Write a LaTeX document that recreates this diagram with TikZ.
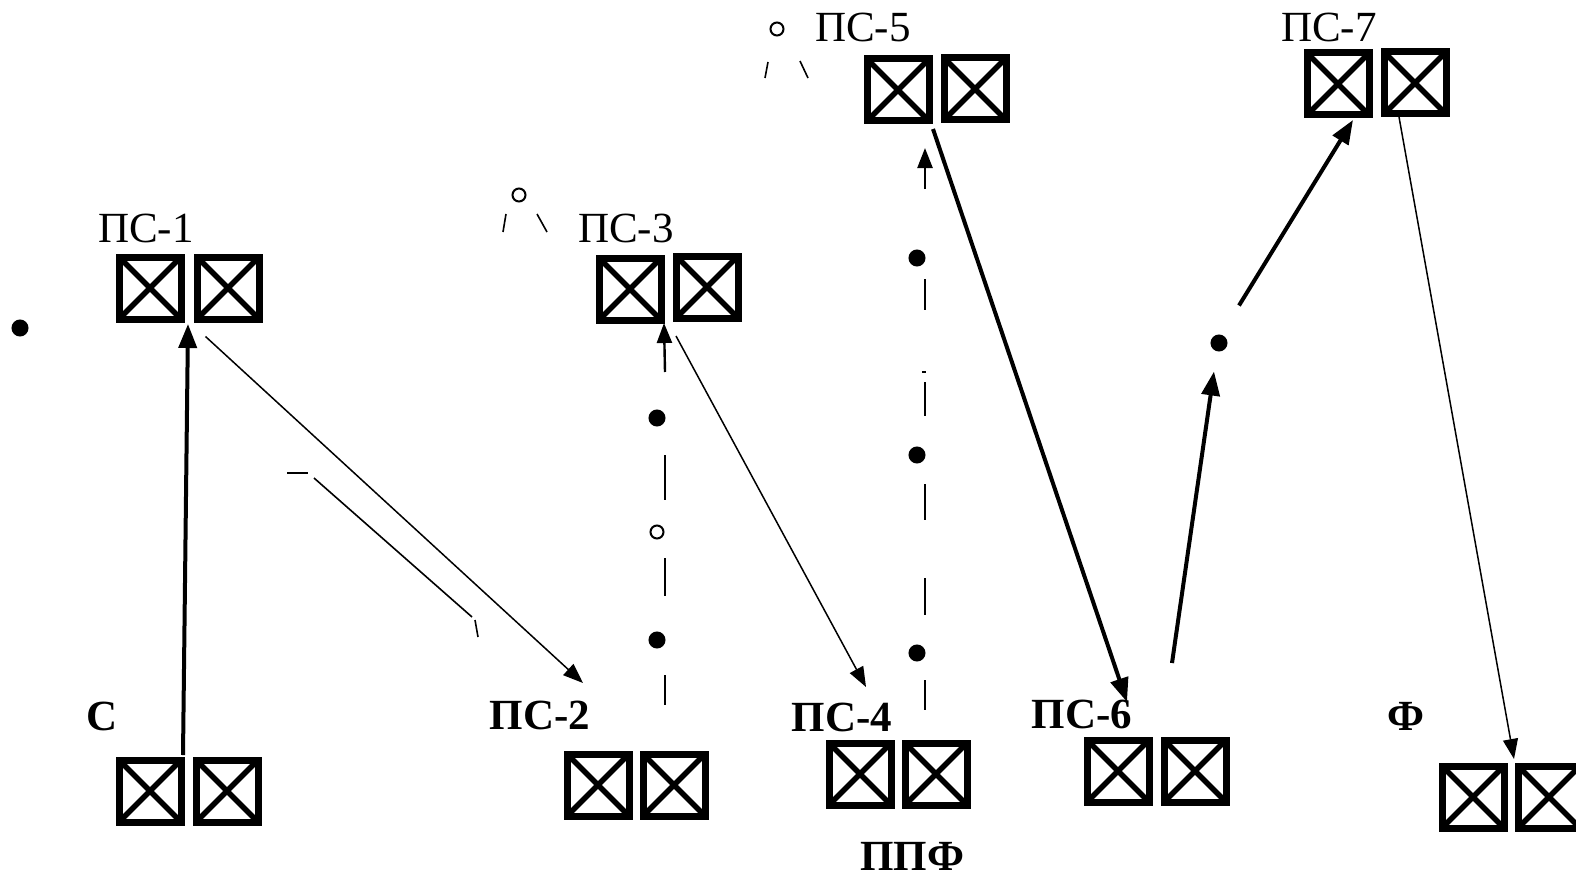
\documentclass[tikz,border=0pt]{standalone}
\usepackage{fontspec}
\setmainfont{Liberation Serif}
\usetikzlibrary{arrows.meta,calc}
\begin{document}
\begin{tikzpicture}[x=1pt,y=-1pt,
  xbox/.style={draw,line width=7pt,minimum size=62pt,inner sep=0pt,outer sep=0pt,
    path picture={\draw[line width=5.5pt]
      (path picture bounding box.north west)--(path picture bounding box.south east)
      (path picture bounding box.north east)--(path picture bounding box.south west);}},
  lab/.style={anchor=base,inner sep=0pt,font=\fontsize{43}{48}\selectfont},
  blab/.style={lab,font=\fontsize{43}{48}\selectfont\bfseries},
  thick arrow/.style={line width=4pt,-{Triangle[length=24pt,width=18pt]}},
  thin arrow/.style={line width=1.5pt,-{Triangle[length=20pt,width=15pt]}},
  dashseg/.style={line width=2.4pt},
  thinseg/.style={line width=1.6pt},
  blob/.style={circle,fill,draw,line width=2pt,inner sep=0pt,minimum size=15pt},
  ring/.style={circle,draw,line width=2pt,inner sep=0pt,minimum size=13pt}
]
\useasboundingbox (0,0) rectangle (1576,880);
\clip (0,0) rectangle (1576,880);

% box pairs
\node[xbox] (c1) at (150,791) {};  \node[xbox] (c2) at (227,791) {};
\node[xbox] (p1a) at (150,288) {}; \node[xbox] (p1b) at (228,288) {};
\node[xbox] (p3a) at (630,289) {}; \node[xbox] (p3b) at (707,287) {};
\node[xbox] (p5a) at (898,90) {};  \node[xbox] (p5b) at (975,89) {};
\node[xbox] (p7a) at (1338,84) {}; \node[xbox] (p7b) at (1415,83) {};
\node[xbox] (p2a) at (598,785) {}; \node[xbox] (p2b) at (674,785) {};
\node[xbox] (p4a) at (860,774) {}; \node[xbox] (p4b) at (936,774) {};
\node[xbox] (p6a) at (1118,771) {};\node[xbox] (p6b) at (1195,771) {};
\node[xbox] (fa) at (1473,797) {}; \node[xbox] (fb) at (1549,797) {};

% labels
\node[lab] (l1) at (146,242) {ПС-1};
\node[lab] (l3) at (626,242) {ПС-3};
\node[lab] (l5) at (863,42) {ПС-5};
\node[lab] (l7) at (1329,42) {ПС-7};
\node[blab] (lc) at (102,730) {С};
\node[blab] (l2) at (540,729) {ПС-2};
\node[blab] (l4) at (842,731) {ПС-4};
\node[blab] (l6) at (1082,728) {ПС-6};
\node[blab] (lf) at (1406,730) {Ф};
\node[blab] (lppf) at (912,870) {ППФ};

% small marks
\node[blob] (b0) at (20,328) {};
\node[ring] (r5) at (777,29) {};
\draw[thinseg] (765,78) -- (768,62);
\draw[thinseg] (800,61) -- (808,78);
\node[ring] (r3) at (519,195) {};
\draw[thinseg] (503,232) -- (506,214);
\draw[thinseg] (537,214) -- (547,232);
\draw[thinseg] (287,473) -- (308,473);
\draw[thinseg] (314,478) -- (472,617);
\draw[thinseg] (475,620) -- (478,637);

% free ends
\coordinate (t2) at (583,683);
\coordinate (t4) at (866,687);
\coordinate (t6) at (1127,702);
\node[blob] (d6) at (1219,343) {};

% connectors
\draw[thick arrow] ([xshift=2pt,yshift=5pt]c1.north east) -- ([xshift=7pt,yshift=-5pt]p1a.south east);
\draw[thin arrow] ([xshift=8.5pt,yshift=-17.5pt]p1b.south west) -- (t2);
\draw[thin arrow] ([xshift=0pt,yshift=-18pt]p3b.south west) -- (t4);
\draw[thick arrow] ([xshift=4pt,yshift=-8pt]p5a.south east) -- (t6);
\draw[thick arrow] ([xshift=-23pt,yshift=77pt]p6b.north) -- ([xshift=-5pt,yshift=-20pt]d6.south);
\draw[thick arrow] ([xshift=20pt,yshift=29pt]d6.north) -- ([xshift=-16pt,yshift=-5pt]p7a.south east);
\draw[thin arrow] ([xshift=-16pt,yshift=-3pt]p7b.south) -- ([xshift=-4pt,yshift=7pt]fb.north west);

% dashed link ПС-2 -> ПС-3 (x = 665)
\draw[dashseg,-{Triangle[length=20pt,width=15pt]}] (665,372) -- ([xshift=3pt,yshift=-3pt]p3a.south east);
\node[blob] (e1) at (657,418) {};
\draw[dashseg] (665,455) -- (665,500);
\node[ring] (e2) at (657,532) {};
\draw[dashseg] (665,558) -- (665,596);
\node[blob] (e3) at (657,640) {};
\draw[dashseg] (665,675) -- (665,705);

% dashed link ПС-4 -> ПС-5 (x = 925)
\draw[dashseg,-{Triangle[length=20pt,width=15pt]}] (925,189) -- ([xshift=27pt,yshift=-27pt]p5a.south);
\node[blob] (g1) at (917,258) {};
\draw[dashseg] (925,279) -- (925,310);
\draw[thinseg] (922,372) -- (926,372);
\draw[dashseg] (925,382) -- (925,416);
\node[blob] (g2) at (917,455) {};
\draw[dashseg] (925,484) -- (925,520);
\draw[dashseg] (925,578) -- (925,615);
\node[blob] (g3) at (917,653) {};
\draw[dashseg] (925,680) -- (925,710);
\end{tikzpicture}
\end{document}
